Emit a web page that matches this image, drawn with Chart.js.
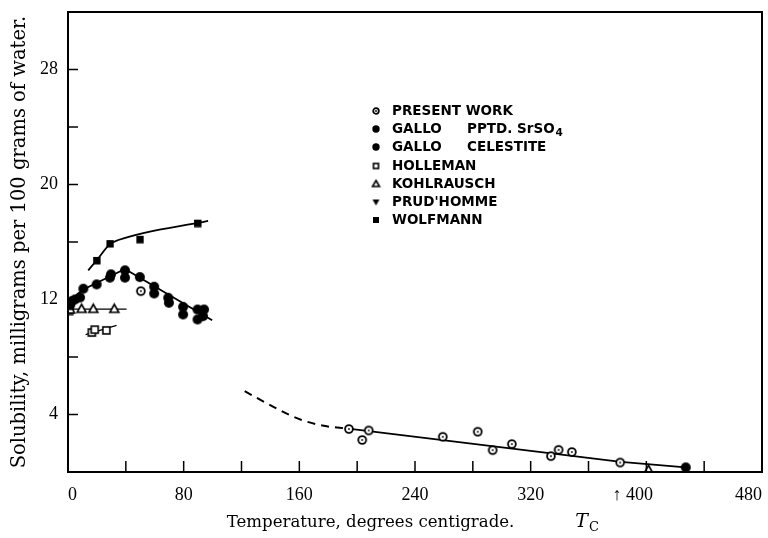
<!DOCTYPE html>
<html><head><meta charset="utf-8">
<script src="https://cdn.jsdelivr.net/npm/chart.js@4.4.1/dist/chart.umd.min.js"></script>
<style>html,body{margin:0;padding:0;background:#fff}#wrap{width:768px;height:538px;position:relative}</style>
</head><body><div id="wrap"><canvas id="c" width="768" height="538"></canvas></div>
<script>
// ---------- data ----------
const presentWorkT = [50.4, 194.3, 203.5, 208, 259.2, 283.4, 293.7, 307, 334, 339.3, 348.5, 381.9];
const presentWorkS = [12.58, 2.99, 2.23, 2.89, 2.45, 2.80, 1.52, 1.94, 1.10, 1.54, 1.39, 0.66];
const galloPptdT = [1.5, 2.5, 4.8, 8.3, 10.6, 19.8, 29, 29.7, 39.4, 39.4, 49.7, 59.6, 59.6, 69.3, 69.8, 79.6, 79.6, 89.6, 89.6, 94.1, 93.4];
const galloPptdS = [11.6, 11.88, 12.0, 12.14, 12.75, 13.05, 13.52, 13.75, 14.03, 13.52, 13.56, 12.89, 12.42, 12.12, 11.77, 11.49, 10.96, 11.3, 10.61, 11.3, 10.84];
const galloCelestiteT = [427.3];
const galloCelestiteS = [0.32];
const hollemanT = [16.5, 18.5, 26.5];
const hollemanS = [9.7, 9.9, 9.85];
const kohlrauschT = [1.5, 9.4, 17.5, 32, 401.5];
const kohlrauschS = [11.3, 11.35, 11.35, 11.35, 0.15];
const prudhommeT = [];
const prudhommeS = [];
const wolfmannT = [1.2, 19.8, 29, 49.7, 89.6];
const wolfmannS = [11.2, 14.72, 15.89, 16.19, 17.31];

// fitted curves drawn in the figure
const galloCurveT = [1.4, 10.6, 39.4, 99.7];
const galloCurveS = [11.95, 12.7, 14.12, 10.56];
const wolfmannCurveT = [14, 20, 29, 34.8, 96.9];
const wolfmannCurveS = [14.03, 14.75, 15.85, 16.14, 17.47];
const kohlrauschLineT = [1.4, 40.5];
const kohlrauschLineS = [11.33, 11.33];
const hollemanLineT = [12.2, 33.6];
const hollemanLineS = [9.56, 10.2];
const presentLineT = [192.5, 382.4, 427.2];
const presentLineS = [3.04, 0.71, 0.32];
const dashedT = [122.2, 146.4, 161.6, 178.9, 192.5];
const dashedS = [5.62, 4.31, 3.62, 3.18, 3.04];

// axes
const xMin = 0, xMax = 480, xStep = 40;
const xLabelled = [0, 80, 160, 240, 320, 400, 480];
const yMin = 0, yMax = 32, yStep = 4;
const yLabelled = [4, 12, 20, 28];
const xTitle = 'Temperature, degrees centigrade.';
const yTitle = 'Solubility, milligrams per 100 grams of water.';
const legendNames = ['PRESENT WORK', 'GALLO', 'GALLO', 'HOLLEMAN', 'KOHLRAUSCH', "PRUD'HOMME", 'WOLFMANN'];

// ---------- marker images ----------
function mk(size, draw){const c=document.createElement('canvas');c.width=size;c.height=size;const g=c.getContext('2d');g.fillStyle='#000';g.strokeStyle='#000';draw(g,size/2);return c;}
function openCircle(r){return mk(Math.ceil(2*r+4),(g,m)=>{g.lineWidth=1.8;g.fillStyle='#fff';g.beginPath();g.arc(m,m,r,0,7);g.fill();g.stroke();g.fillStyle='#000';g.beginPath();g.arc(m,m,0.9,0,7);g.fill();});}
function filledCircle(r){return mk(Math.ceil(2*r+2),(g,m)=>{g.beginPath();g.arc(m,m,r,0,7);g.fill();});}
function openSquare(s){return mk(s+4,(g,m)=>{g.lineWidth=1.6;g.fillStyle='#fff';g.fillRect(m-s/2,m-s/2,s,s);g.strokeRect(m-s/2,m-s/2,s,s);});}
function filledSquare(s){return mk(s+2,(g,m)=>{g.fillRect(m-s/2,m-s/2,s,s);});}
function openTri(s){return mk(s+4,(g,m)=>{g.lineWidth=1.6;g.fillStyle='#fff';g.beginPath();g.moveTo(m,m-s/2);g.lineTo(m+s/2,m+s/2-1);g.lineTo(m-s/2,m+s/2-1);g.closePath();g.fill();g.stroke();});}
function downTri(s){return mk(s+2,(g,m)=>{g.beginPath();g.moveTo(m-s/2,m-s/2+1);g.lineTo(m+s/2,m-s/2+1);g.lineTo(m,m+s/2);g.closePath();g.fill();});}

const mPresent = openCircle(3.9), mGallo = filledCircle(5), mHoll = openSquare(7), mKohl = openTri(9), mPrud = downTri(8), mWolf = filledSquare(7.5);
const lPresent = openCircle(2.8), lGallo = filledCircle(3.7), lHoll = openSquare(5), lKohl = openTri(7), lPrud = downTri(7), lWolf = filledSquare(6);

const pts = (T,S)=>T.map((t,i)=>({x:t,y:S[i]}));
const lineDs = (T,S,extra)=>Object.assign({data:pts(T,S),showLine:true,pointRadius:0,borderColor:'#000',borderWidth:1.8,fill:false,order:2},extra||{});
const ptDs = (label,T,S,img)=>({label,data:pts(T,S),showLine:false,pointStyle:img,pointRadius:5,backgroundColor:'#000',borderColor:'#000',order:1});

// ---------- plugins ----------
const frame = {
  id:'frame',
  afterDraw(chart){
    const {ctx, chartArea:a, scales:{x,y}} = chart;
    ctx.save();
    ctx.strokeStyle='#000';ctx.lineWidth=2;
    ctx.strokeRect(a.left,a.top,a.right-a.left,a.bottom-a.top);
    ctx.lineWidth=1.5;
    for(let v=xMin+xStep; v<xMax; v+=xStep){const p=x.getPixelForValue(v);ctx.beginPath();ctx.moveTo(p,a.bottom);ctx.lineTo(p,a.bottom-11);ctx.stroke();}
    for(let v=yMin+yStep; v<yMax; v+=yStep){const p=y.getPixelForValue(v);ctx.beginPath();ctx.moveTo(a.left,p);ctx.lineTo(a.left+10,p);ctx.stroke();}
    // x title and Tc
    ctx.fillStyle='#000';
    ctx.font='16.6px "DejaVu Serif"';
    ctx.textAlign='center';ctx.textBaseline='alphabetic';
    ctx.fillText(xTitle, a.left + (a.right-a.left)*0.436, 527);
    const tx = x.getPixelForValue(400) - 71;
    ctx.textAlign='left';
    ctx.font='italic 19px "DejaVu Serif"';
    ctx.fillText('T', tx, 527);
    const tw = ctx.measureText('T').width;
    ctx.font='13px "DejaVu Serif"';
    ctx.fillText('C', tx+tw+1, 531);
    // legend
    const lx = 376, tx0 = 392, tx1 = 467;
    const rows = [111,129,147,166,184,202,220];
    const imgs = [lPresent,lGallo,lGallo,lHoll,lKohl,lPrud,lWolf];
    ctx.font='bold 13.5px "DejaVu Sans"';
    ctx.textBaseline='middle';
    rows.forEach((ry,i)=>{
      const im=imgs[i]; ctx.drawImage(im, lx-im.width/2, ry-im.height/2);
      ctx.fillText(legendNames[i], tx0, ry);
    });
    ctx.fillText('PPTD. SrSO', tx1, rows[1]);
    const w = ctx.measureText('PPTD. SrSO').width;
    ctx.font='bold 10.5px "DejaVu Sans"';
    ctx.fillText('4', tx1+w+1, rows[1]+4);
    ctx.font='bold 13.5px "DejaVu Sans"';
    ctx.fillText('CELESTITE', tx1, rows[2]);
    ctx.restore();
  }
};

new Chart(document.getElementById('c'), {
  type:'scatter',
  data:{datasets:[
    lineDs(galloCurveT,galloCurveS),
    lineDs(wolfmannCurveT,wolfmannCurveS,{cubicInterpolationMode:'monotone'}),
    lineDs(kohlrauschLineT,kohlrauschLineS,{borderWidth:1.4}),
    lineDs(hollemanLineT,hollemanLineS,{borderWidth:1.4}),
    lineDs(presentLineT,presentLineS),
    lineDs(dashedT,dashedS,{borderDash:[8,6],borderWidth:2,cubicInterpolationMode:'monotone'}),
    ptDs('PRESENT WORK',presentWorkT,presentWorkS,mPresent),
    ptDs('GALLO PPTD. SrSO4',galloPptdT,galloPptdS,mGallo),
    ptDs('GALLO CELESTITE',galloCelestiteT,galloCelestiteS,mGallo),
    ptDs('HOLLEMAN',hollemanT,hollemanS,mHoll),
    ptDs('KOHLRAUSCH',kohlrauschT,kohlrauschS,mKohl),
    ptDs("PRUD'HOMME",prudhommeT,prudhommeS,mPrud),
    ptDs('WOLFMANN',wolfmannT,wolfmannS,mWolf)
  ]},
  options:{
    responsive:false, animation:false, devicePixelRatio:1,
    layout:{padding:{top:12,right:5,left:0,bottom:0}},
    plugins:{legend:{display:false},tooltip:{enabled:false}},
    scales:{
      x:{type:'linear',min:xMin,max:xMax,
        grid:{display:false,drawTicks:false},border:{display:false},
        afterFit(s){s.height=66;s.paddingLeft=0;s.paddingRight=0;},
        afterBuildTicks(s){s.ticks=[];for(let v=xMin;v<=xMax;v+=xStep)s.ticks.push({value:v});},
        ticks:{autoSkip:false,maxRotation:0,padding:12,align:'inner',color:'#000',
          font:{family:'"Liberation Serif"',size:18},
          callback:(v)=>xLabelled.includes(v)?(v===400?'↑ 400\u00A0\u00A0\u00A0\u00A0\u00A0\u00A0':String(v)):''}},
      y:{type:'linear',min:yMin,max:yMax,
        grid:{display:false,drawTicks:false},border:{display:false},
        afterFit(s){s.width=68;s.paddingTop=0;s.paddingBottom=0;},
        afterBuildTicks(s){s.ticks=[];for(let v=yMin;v<=yMax;v+=yStep)s.ticks.push({value:v});},
        ticks:{autoSkip:false,padding:10,color:'#000',
          font:{family:'"Liberation Serif"',size:18},
          callback:(v)=>yLabelled.includes(v)?String(v):''},
        title:{display:true,text:yTitle,color:'#000',padding:{top:8,bottom:0},
          font:{family:'"DejaVu Serif"',size:19.5,weight:'normal'}}}
    }
  },
  plugins:[frame]
});
</script></body></html>
